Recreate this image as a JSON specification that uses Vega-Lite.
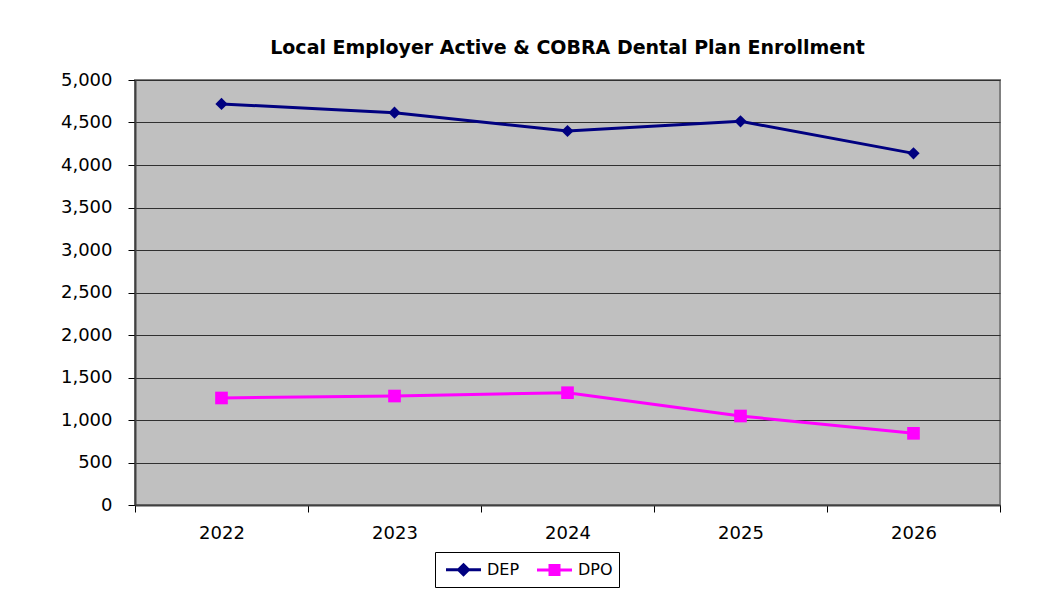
{
  "$schema": "https://vega.github.io/schema/vega-lite/v6.json",
  "autosize": "none",
  "width": 865,
  "height": 425,
  "padding": {"left": 135, "top": 80, "right": 40, "bottom": 89},
  "background": "white",
  "title": {
    "text": "Local Employer Active & COBRA Dental Plan Enrollment",
    "font": "DejaVu Sans",
    "fontSize": 19,
    "fontWeight": "bold",
    "color": "black",
    "anchor": "middle",
    "offset": 13
  },
  "data": {
    "values": [
      {"year": "2022", "plan": "DEP", "enrollment": 4718},
      {"year": "2023", "plan": "DEP", "enrollment": 4615},
      {"year": "2024", "plan": "DEP", "enrollment": 4400},
      {"year": "2025", "plan": "DEP", "enrollment": 4514},
      {"year": "2026", "plan": "DEP", "enrollment": 4137},
      {"year": "2022", "plan": "DPO", "enrollment": 1259},
      {"year": "2023", "plan": "DPO", "enrollment": 1282},
      {"year": "2024", "plan": "DPO", "enrollment": 1321},
      {"year": "2025", "plan": "DPO", "enrollment": 1047},
      {"year": "2026", "plan": "DPO", "enrollment": 843}
    ]
  },
  "encoding": {
    "x": {
      "field": "year",
      "type": "ordinal",
      "scale": {"paddingInner": 0, "paddingOuter": 0},
      "axis": {
        "title": null,
        "labelAngle": 0,
        "tickBand": "extent",
        "tickSize": 7,
        "tickColor": "black",
        "domainColor": "#404040",
        "domainWidth": 2,
        "labelFont": "DejaVu Sans",
        "labelFontSize": 18,
        "labelColor": "black",
        "labelPadding": 12,
        "grid": false
      }
    },
    "y": {
      "field": "enrollment",
      "type": "quantitative",
      "scale": {"domain": [0, 5000], "nice": false},
      "axis": {
        "title": null,
        "values": [0, 500, 1000, 1500, 2000, 2500, 3000, 3500, 4000, 4500, 5000],
        "format": ",d",
        "tickSize": 7,
        "tickColor": "black",
        "domainColor": "#404040",
        "domainWidth": 2,
        "labelFont": "DejaVu Sans",
        "labelFontSize": 18,
        "labelColor": "black",
        "labelPadding": 16,
        "grid": true,
        "gridColor": "#303030",
        "gridWidth": 1
      }
    },
    "color": {
      "field": "plan",
      "type": "nominal",
      "scale": {"domain": ["DEP", "DPO"], "range": ["#000080", "#ff00ff"]},
      "legend": {
        "title": null,
        "orient": "none",
        "legendX": 300,
        "legendY": 472,
        "direction": "horizontal",
        "labelFont": "DejaVu Sans",
        "labelFontSize": 16,
        "labelColor": "black",
        "labelOffset": 23,
        "strokeColor": "black",
        "padding": 6,
        "symbolSize": 400,
        "columnPadding": 11,
        "encode": {
          "symbols": {
            "update": {
              "shape": {"signal": "datum.value === 'DEP' ? 'M-0.65,0H2.85M1.1,-0.5L1.6,0L1.1,0.5L0.6,0Z' : 'M-0.65,0H2.85M0.65,-0.45H1.55V0.45H0.65Z'"},
              "stroke": {"signal": "datum.value === 'DEP' ? '#000080' : '#ff00ff'"},
              "fill": {"signal": "datum.value === 'DEP' ? '#000080' : '#ff00ff'"},
              "strokeWidth": {"value": 3},
              "opacity": {"value": 1}
            }
          }
        }
      }
    }
  },
  "layer": [
    {"mark": {"type": "line", "strokeWidth": 3}},
    {
      "transform": [{"filter": "datum.plan === 'DEP'"}],
      "mark": {"type": "point", "shape": "diamond", "filled": true, "opacity": 1, "size": 150}
    },
    {
      "transform": [{"filter": "datum.plan === 'DPO'"}],
      "mark": {"type": "point", "shape": "square", "filled": true, "opacity": 1, "size": 160}
    }
  ],
  "config": {
    "view": {"fill": "#c0c0c0", "stroke": "#808080", "strokeWidth": 2}
  }
}
